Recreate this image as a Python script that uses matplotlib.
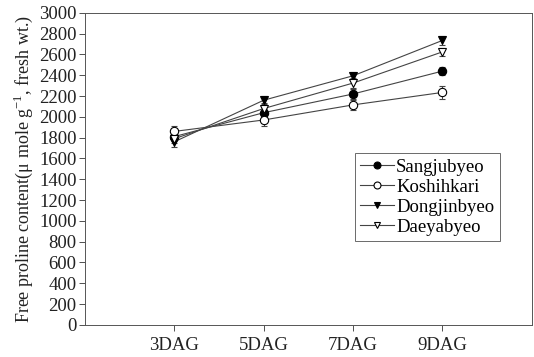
import numpy as np
import matplotlib
matplotlib.use("Agg")
import matplotlib.pyplot as plt
from matplotlib.lines import Line2D

plt.rcParams['font.family'] = ['Liberation Serif', 'DejaVu Serif']
plt.rcParams['mathtext.fontset'] = 'custom'
plt.rcParams['mathtext.rm'] = 'Liberation Serif'

days = ["3DAG", "5DAG", "7DAG", "9DAG"]
sangjubyeo = [1810, 2040, 2220, 2440]
koshihkari = [1860, 1970, 2115, 2235]
dongjinbyeo = [1760, 2160, 2395, 2735]
daeyabyeo = [1790, 2080, 2325, 2625]

sangjubyeo_err = [40, 40, 50, 40]
koshihkari_err = [50, 60, 50, 60]
dongjinbyeo_err = [50, 40, 40, 40]
daeyabyeo_err = [40, 50, 50, 40]

series = [
    ("Sangjubyeo", sangjubyeo, sangjubyeo_err, "o", "black"),
    ("Koshihkari", koshihkari, koshihkari_err, "o", "white"),
    ("Dongjinbyeo", dongjinbyeo, dongjinbyeo_err, "v", "black"),
    ("Daeyabyeo", daeyabyeo, daeyabyeo_err, "v", "white"),
]

fig = plt.figure(figsize=(5.34, 3.57), dpi=100)
ax = fig.add_axes([0.159, 0.09, 0.837, 0.874])

x = np.arange(1, len(days) + 1)
handles = []
for name, vals, err, mk, fc in series:
    ax.errorbar(x, vals, yerr=err, marker=mk, markersize=6, mfc=fc, mec="black",
                color="#444444", lw=0.8, elinewidth=0.7, capsize=2.5, capthick=0.7,
                ecolor="#444444", mew=0.8)
    handles.append(Line2D([], [], marker=mk, markersize=5, mfc=fc, mec="black",
                          color="#444444", lw=0.8, mew=0.8, label=name))

ax.set_xlim(0, 5)
ax.set_ylim(0, 3000)
ax.set_yticks(np.arange(0, 3001, 200))
ax.set_xticks(x)
ax.set_xticklabels(days)
ax.tick_params(axis='both', labelsize=13.5, direction='out', length=4, width=0.6,
               colors="#333333", labelcolor="#222222")
ax.tick_params(axis='x', pad=5)
ax.tick_params(axis='y', pad=2)
for s in ax.spines.values():
    s.set_linewidth(0.7)
    s.set_color("#555555")

ax.set_ylabel("Free proline content(\u03bc mole g$^{\\mathregular{-1}}$, fresh wt.)",
              fontsize=13, color="#222222", labelpad=3)

leg = ax.legend(handles=handles, loc="upper left", bbox_to_anchor=(0.604, 0.551),
                fontsize=13.5, frameon=True, fancybox=False, edgecolor="#444444",
                handlelength=1.8, handletextpad=0.1, borderpad=0.3, labelspacing=0.15,
                borderaxespad=0)
leg.get_frame().set_linewidth(0.7)

fig.savefig("out.png", dpi=100)
